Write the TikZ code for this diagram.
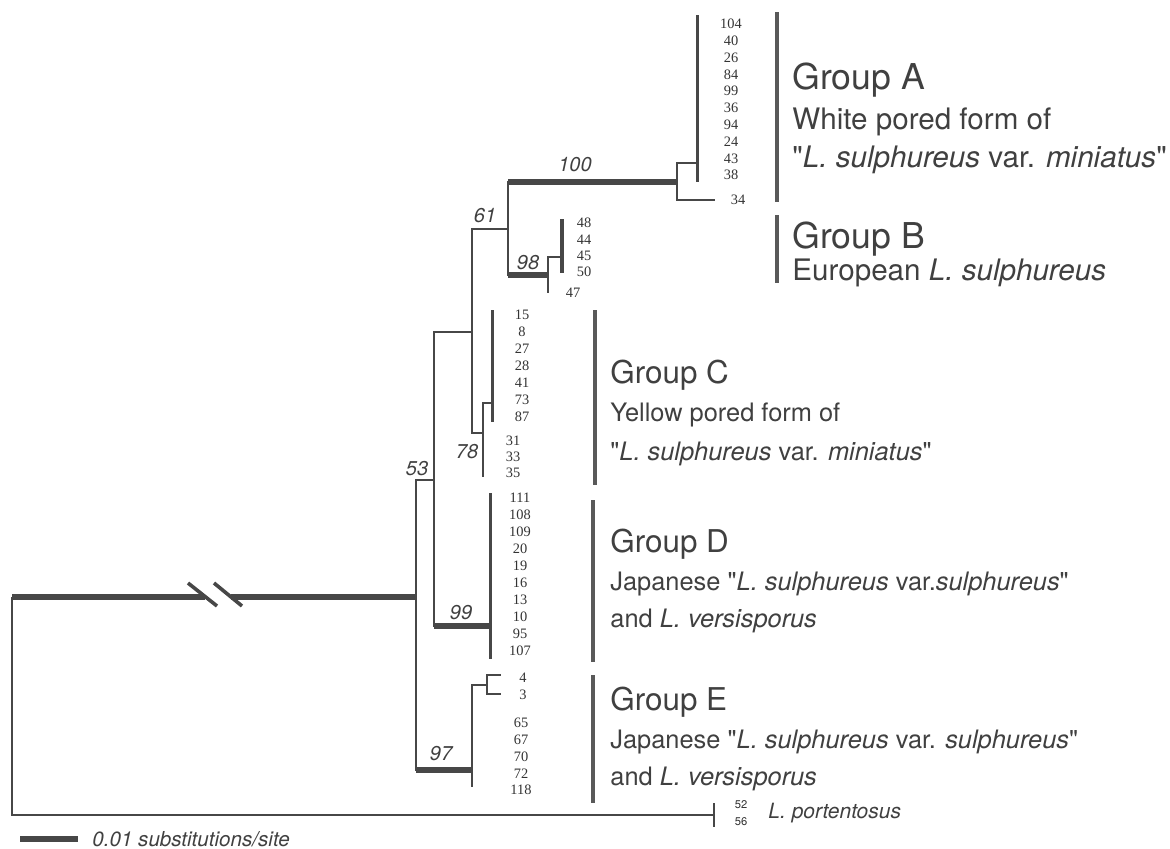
\documentclass[tikz,border=0pt]{standalone}
\usepackage{fontspec}
\setmainfont[Ligatures=TeXOff]{TeX Gyre Heros}
\newfontfamily\tipfont{Liberation Serif}
\usetikzlibrary{positioning}

\begin{document}
\begin{tikzpicture}[x=0.5pt,y=-0.5pt,
    branch/.style={draw=black!72,line width=1.3pt},
    strong/.style={draw=black!72,line width=2.7pt},
    gbar/.style={draw=black!65,line width=2.4pt},
    tip/.style={inner sep=0pt,text=black!80,font=\tipfont\fontsize{7.2}{7}\selectfont},
    boot/.style={inner sep=0pt,text=black!75,font=\fontsize{10}{10}\selectfont\itshape},
    grpbig/.style={anchor=base west,inner sep=0pt,text=black!75,font=\fontsize{17.8}{18}\selectfont},
    subbig/.style={anchor=base west,inner sep=0pt,text=black!75,font=\fontsize{14.8}{15}\selectfont},
    grp/.style={anchor=base west,inner sep=0pt,text=black!75,font=\fontsize{15.7}{16}\selectfont},
    sub/.style={anchor=base west,inner sep=0pt,text=black!75,font=\fontsize{12.7}{13}\selectfont}
  ]
  \useasboundingbox (0,0) rectangle (1170,848);

  % internal nodes of the tree
  \coordinate (root) at (12,597);
  \coordinate (brkL) at (205,597);
  \coordinate (brkR) at (231,597);
  \coordinate (nIn)  at (416,597);
  \coordinate (n53)  at (434,480);
  \coordinate (nMid) at (472,332);
  \coordinate (n61)  at (508,229);
  \coordinate (n100) at (677,182);
  \coordinate (nA)   at (697,163);
  \coordinate (t34)  at (715,200);
  \coordinate (n98)  at (548,275);
  \coordinate (nB)   at (562,257);
  \coordinate (t47)  at (548,293);
  \coordinate (n78)  at (483,433);
  \coordinate (nC)   at (492,403);
  \coordinate (t35)  at (483,477);
  \coordinate (n99)  at (490,626);
  \coordinate (n97)  at (472,770);
  \coordinate (n43)  at (487,685);
  \coordinate (t4)   at (501,675);
  \coordinate (t3)   at (501,694);
  \coordinate (t118) at (472,787);
  \coordinate (outg) at (714,815);

  % branches
  \draw[branch] (root) |- (outg);
  \draw[branch] (outg) ++(0,-12) -- ++(0,24);
  \draw[strong] (root) -- (brkL);
  \draw[strong] (brkR) -- (nIn);
  \draw[draw=black!72,line width=1.8pt] (188,583) -- (217,606) (214,583) -- (242,606);
  \draw[branch] (nIn) |- (n53);
  \draw[branch] (nIn) |- (n97);
  \draw[branch] (n53) |- (nMid);
  \draw[branch] (n53) |- (n99);
  \draw[branch] (nMid) |- (n61);
  \draw[branch] (nMid) |- (n78);
  \draw[branch] (n61) |- (n100);
  \draw[branch] (n61) |- (n98);
  \draw[branch] (n100) |- (nA);
  \draw[branch] (n100) |- (t34);
  \draw[branch] (n98) |- (nB);
  \draw[branch] (n98) -- (t47);
  \draw[branch] (n78) |- (nC);
  \draw[branch] (n78) -- (t35);
  \draw[branch] (n97) |- (n43);
  \draw[branch] (n97) -- (t118);
  \draw[branch] (n43) |- (t4);
  \draw[branch] (n43) |- (t3);
  \draw[strong] (n61 |- n100) -- (n100);
  \draw[strong] (n61 |- n98) -- (n98);
  \draw[strong] (n53 |- n99) -- (n99);
  \draw[strong] (nIn |- n97) -- (n97);

  % tip lines
  \draw[branch,line width=1.5pt] (697,15) -- (nA) -- (697,182);
  \draw[branch,line width=1.6pt] (562,219) -- (nB) -- (562,273);
  \draw[branch,line width=1.5pt] (492,310) -- (nC) -- (492,422);
  \draw[branch,line width=1.5pt] (490,493) -- (n99) -- (490,659);

  % bootstrap values
  \node[boot] (b100) at (575,165) {100};
  \node[boot] (b61)  at (485,216) {61};
  \node[boot] (b98)  at (528,263) {98};
  \node[boot] (b78)  at (467,452) {78};
  \node[boot] (b53)  at (417,469) {53};
  \node[boot] (b99)  at (461,613) {99};
  \node[boot] (b97)  at (441,754) {97};

  % isolate numbers
  \foreach \t [count=\i from 0] in {104,40,26,84,99,36,94,24,43,38}
    \node[tip] (tA\i) at (731,24+16.8*\i) {\t};
  \node[tip] (tA34) at (738,200) {34};
  \foreach \t [count=\i from 0] in {48,44,45,50}
    \node[tip] (tB\i) at (584,223+16.3*\i) {\t};
  \node[tip] (tB47) at (573,293) {47};
  \foreach \t [count=\i from 0] in {15,8,27,28,41,73,87}
    \node[tip] (tC\i) at (522,315+17*\i) {\t};
  \foreach \t [count=\i from 0] in {31,33,35}
    \node[tip] (tCc\i) at (513,441+16*\i) {\t};
  \foreach \t [count=\i from 0] in {111,108,109,20,19,16,13,10,95,107}
    \node[tip] (tD\i) at (520,498+17*\i) {\t};
  \node[tip] (tE4) at (523,678) {4};
  \node[tip] (tE3) at (523,695) {3};
  \foreach \t [count=\i from 0] in {65,67,70,72,118}
    \node[tip] (tE\i) at (521,723+16.8*\i) {\t};
  \node[inner sep=0pt,text=black!80,font=\fontsize{5.6}{6}\selectfont] (o52) at (741,805) {52};
  \node[inner sep=0pt,text=black!80,font=\fontsize{5.6}{6}\selectfont] (o56) at (741,822) {56};
  \node[anchor=west,inner sep=0pt,text=black!75,font=\fontsize{10.5}{11}\selectfont\itshape] (lport) at (768,813) {L. portentosus};

  % group bars and names
  \draw[gbar] (777,12) -- (777,202);
  \draw[gbar] (777,215) -- (777,283);
  \draw[gbar] (595,310) -- (595,485);
  \draw[gbar] (593,500) -- (593,662);
  \draw[gbar] (593,675) -- (593,803);

  \node[grpbig] (gA)  at (792,89)  {Group A};
  \node[subbig] (gA1) at (792,129) {White pored form of};
  \node[subbig] (gA2) at (792,167) {"\textit{L. sulphureus} var. \textit{miniatus}"};
  \node[grpbig] (gB)  at (792,248) {Group B};
  \node[subbig] (gB1) at (792,280) {European \textit{L. sulphureus}};
  \node[grp] (gC)  at (610,383) {Group C};
  \node[sub] (gC1) at (610,421) {Yellow pored form of};
  \node[sub] (gC2) at (610,460) {"\textit{L. sulphureus} var. \textit{miniatus}"};
  \node[grp] (gD)  at (610,552) {Group D};
  \node[sub] (gD1) at (610,590) {Japanese "\textit{L. sulphureus} var.\textit{sulphureus}"};
  \node[sub] (gD2) at (610,627) {and \textit{L. versisporus}};
  \node[grp] (gE)  at (610,710) {Group E};
  \node[sub] (gE1) at (610,748) {Japanese "\textit{L. sulphureus} var. \textit{sulphureus}"};
  \node[sub] (gE2) at (610,785) {and \textit{L. versisporus}};

  % scale
  \coordinate (sc1) at (20,839);
  \coordinate (sc2) at (78,839);
  \draw[strong] (sc1) -- (sc2);
  \node[anchor=west,inner sep=0pt,text=black!75,font=\fontsize{10.3}{11}\selectfont\itshape] (scl) at (92,839) {0.01 substitutions/site};
\end{tikzpicture}
\end{document}
